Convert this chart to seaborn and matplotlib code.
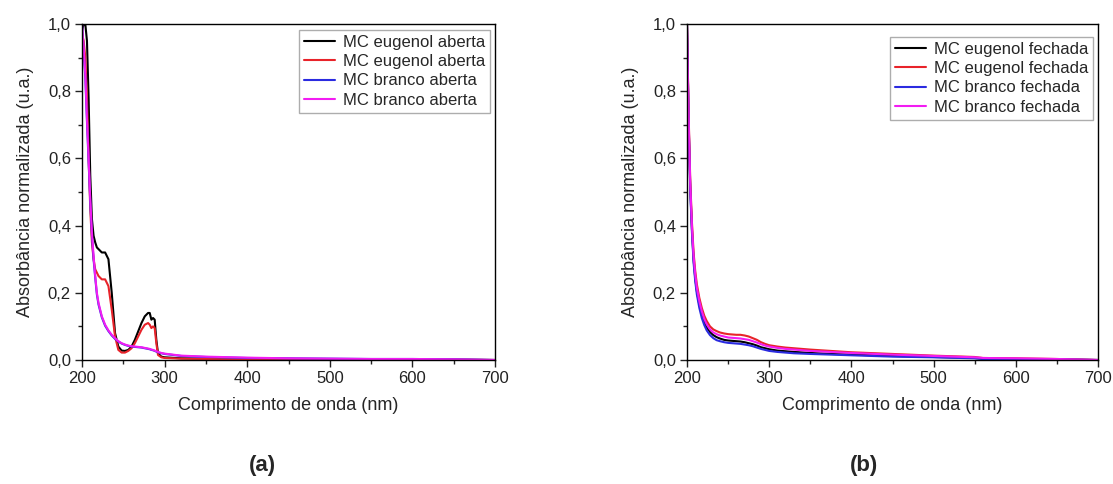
import numpy as np
import pandas as pd
import matplotlib
matplotlib.use("Agg")
import matplotlib.pyplot as plt
import seaborn as sns
from matplotlib.ticker import FuncFormatter, MultipleLocator

# ---- dados: painel (a) amostras abertas ----
wl_a = [200, 202, 204, 206, 208, 210, 212, 214, 216, 218, 220, 224, 228, 232,
        236, 240, 244, 248, 252, 256, 260, 264, 268, 272, 276, 280, 282, 284,
        286, 288, 290, 292, 296, 300, 320, 350, 400, 450, 500, 550, 600, 650, 700]
eugenol_a1 = [0.98, 1.0, 1.0, 0.95, 0.78, 0.55, 0.42, 0.37, 0.35, 0.335, 0.33, 0.32,
              0.32, 0.30, 0.20, 0.08, 0.04, 0.028, 0.027, 0.03, 0.04, 0.06, 0.085,
              0.11, 0.13, 0.14, 0.14, 0.12, 0.125, 0.12, 0.06, 0.02, 0.01, 0.008,
              0.005, 0.004, 0.004, 0.003, 0.002, 0.001, 0.001, 0.001, 0.0]
eugenol_a2 = [0.97, 0.95, 0.9, 0.78, 0.6, 0.45, 0.35, 0.3, 0.27, 0.26, 0.25, 0.24,
              0.24, 0.22, 0.15, 0.07, 0.03, 0.022, 0.022, 0.027, 0.035, 0.05, 0.07,
              0.09, 0.105, 0.11, 0.105, 0.095, 0.1, 0.095, 0.05, 0.015, 0.008, 0.006,
              0.004, 0.003, 0.003, 0.002, 0.002, 0.001, 0.001, 0.001, 0.0]
branco_a1 = [1.0, 0.92, 0.84, 0.71, 0.59, 0.47, 0.37, 0.3, 0.245, 0.195, 0.165, 0.127,
             0.102, 0.086, 0.073, 0.063, 0.055, 0.049, 0.045, 0.042, 0.04, 0.039,
             0.038, 0.037, 0.035, 0.033, 0.032, 0.03, 0.029, 0.027, 0.025, 0.023,
             0.02, 0.018, 0.012, 0.009, 0.006, 0.005, 0.004, 0.003, 0.003, 0.002, 0.0]
branco_a2 = [1.0, 0.93, 0.85, 0.72, 0.6, 0.48, 0.38, 0.31, 0.25, 0.2, 0.17, 0.13,
             0.105, 0.088, 0.075, 0.065, 0.056, 0.05, 0.046, 0.043, 0.041, 0.04,
             0.039, 0.038, 0.036, 0.034, 0.033, 0.031, 0.03, 0.028, 0.026, 0.024,
             0.021, 0.019, 0.013, 0.01, 0.007, 0.005, 0.004, 0.003, 0.003, 0.002, 0.0]

# ---- dados: painel (b) amostras fechadas ----
wl_b = [200, 202, 204, 206, 208, 210, 212, 215, 218, 221, 224, 228, 232, 236, 240,
        245, 250, 255, 260, 265, 270, 275, 280, 285, 290, 295, 300, 310, 320, 330,
        350, 375, 400, 450, 500, 550, 560, 600, 650, 700]
eugenol_b1 = [1.0, 0.71, 0.51, 0.39, 0.3, 0.245, 0.205, 0.165, 0.135, 0.113, 0.097,
              0.083, 0.074, 0.068, 0.064, 0.06, 0.058, 0.057, 0.056, 0.055, 0.053,
              0.05, 0.047, 0.043, 0.038, 0.035, 0.032, 0.028, 0.026, 0.024, 0.021,
              0.018, 0.016, 0.012, 0.009, 0.006, 0.004, 0.003, 0.002, 0.0]
eugenol_b2 = [1.0, 0.73, 0.53, 0.41, 0.32, 0.265, 0.225, 0.185, 0.155, 0.132, 0.116,
              0.1, 0.091, 0.086, 0.082, 0.079, 0.077, 0.076, 0.075, 0.075, 0.073,
              0.07, 0.065, 0.06, 0.053, 0.048, 0.044, 0.04, 0.037, 0.035, 0.031,
              0.027, 0.023, 0.018, 0.013, 0.009, 0.006, 0.005, 0.003, 0.0]
branco_b1 = [1.0, 0.7, 0.5, 0.38, 0.29, 0.235, 0.195, 0.155, 0.125, 0.104, 0.088,
             0.074, 0.065, 0.059, 0.056, 0.053, 0.051, 0.05, 0.049, 0.048, 0.046,
             0.044, 0.041, 0.037, 0.033, 0.03, 0.027, 0.024, 0.022, 0.02, 0.018,
             0.016, 0.014, 0.01, 0.008, 0.005, 0.003, 0.003, 0.002, 0.0]
branco_b2 = [1.0, 0.72, 0.52, 0.4, 0.31, 0.255, 0.215, 0.175, 0.145, 0.122, 0.106,
             0.091, 0.082, 0.077, 0.073, 0.07, 0.067, 0.066, 0.065, 0.064, 0.062,
             0.06, 0.056, 0.052, 0.047, 0.043, 0.04, 0.036, 0.033, 0.031, 0.027,
             0.024, 0.021, 0.016, 0.012, 0.008, 0.006, 0.005, 0.003, 0.0]

cores = ["black", "#e8232a", "#2b2be0", "#f21cf2"]

sns.set_theme(style="ticks")
plt.rcParams["font.family"] = ["Liberation Sans", "DejaVu Sans"]

fig = plt.figure(figsize=(11.13, 4.84), dpi=100)
ax_a = fig.add_axes([82 / 1113, 124 / 484, 413 / 1113, 336 / 484])
ax_b = fig.add_axes([687 / 1113, 124 / 484, 411 / 1113, 336 / 484])

virgula = FuncFormatter(lambda v, p: f"{v:.1f}".replace(".", ","))

def painel(ax, wl, series, labels, leg_anchor):
    for y, lab, c in zip(series, labels, cores):
        sns.lineplot(x=wl, y=y, ax=ax, color=c, label=lab, linewidth=1.5)
    ax.set_xlim(200, 700)
    ax.set_ylim(0, 1.0)
    ax.xaxis.set_major_locator(MultipleLocator(100))
    ax.xaxis.set_minor_locator(MultipleLocator(50))
    ax.yaxis.set_major_locator(MultipleLocator(0.2))
    ax.yaxis.set_minor_locator(MultipleLocator(0.1))
    ax.yaxis.set_major_formatter(virgula)
    ax.tick_params(which="both", direction="out", top=False, right=False,
                   labelsize=12, colors="#222222", pad=3)
    ax.tick_params(which="major", length=5, width=1)
    ax.tick_params(which="minor", length=3, width=1)
    for s in ax.spines.values():
        s.set_visible(True)
        s.set_color("black")
        s.set_linewidth(1.0)
    ax.set_xlabel("Comprimento de onda (nm)", fontsize=13, labelpad=8)
    ax.set_ylabel("Absorbância normalizada (u.a.)", fontsize=13, labelpad=10)
    leg = ax.legend(loc="upper right", bbox_to_anchor=leg_anchor, fontsize=12,
                    frameon=True, fancybox=False, handlelength=1.9,
                    handletextpad=0.45, labelspacing=0.25, borderpad=0.3,
                    borderaxespad=0.0)
    leg.get_frame().set_edgecolor("#999999")
    leg.get_frame().set_linewidth(1.0)

painel(ax_a, wl_a, [eugenol_a1, eugenol_a2, branco_a1, branco_a2],
       ["MC eugenol aberta", "MC eugenol aberta", "MC branco aberta", "MC branco aberta"],
       (0.988, 0.982))
painel(ax_b, wl_b, [eugenol_b1, eugenol_b2, branco_b1, branco_b2],
       ["MC eugenol fechada", "MC eugenol fechada", "MC branco fechada", "MC branco fechada"],
       (0.988, 0.961))

fig.text(262 / 1113, 1 - 466 / 484, "(a)", ha="center", va="center",
         fontsize=16, fontweight="bold")
fig.text(864 / 1113, 1 - 466 / 484, "(b)", ha="center", va="center",
         fontsize=16, fontweight="bold")

fig.savefig("out.png", dpi=100)
